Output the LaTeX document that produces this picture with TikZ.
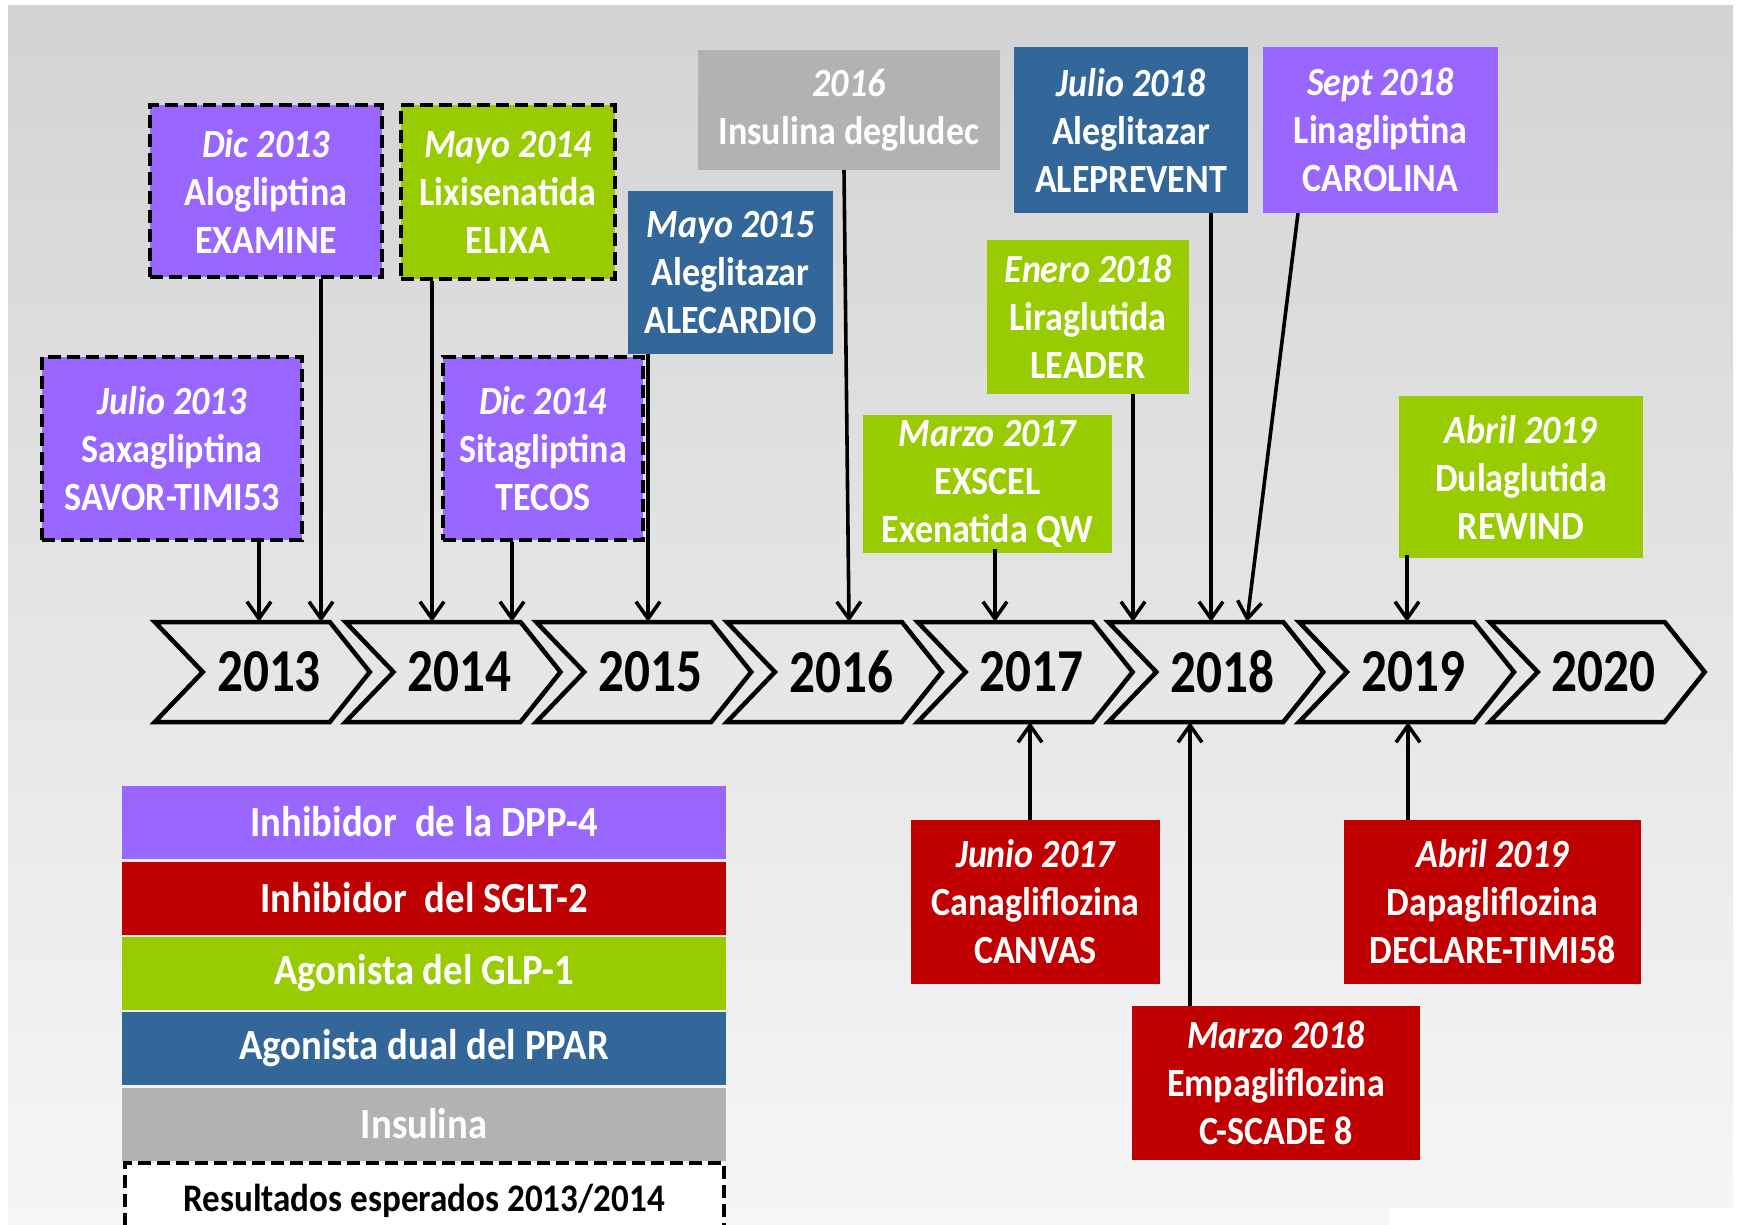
\documentclass[tikz,border=0pt]{standalone}
\usepackage{fontspec}
\setmainfont{Carlito}
\newfontfamily\boxfont[FakeStretch=0.9]{Carlito}
\newfontfamily\yearfont[FakeStretch=0.84]{Carlito}
\usetikzlibrary{arrows.meta,calc}

\definecolor{dpp}{HTML}{9966FF}
\definecolor{sglt}{HTML}{C00000}
\definecolor{glp}{HTML}{99CC00}
\definecolor{ppar}{HTML}{336699}
\definecolor{insu}{HTML}{B2B2B2}
\definecolor{bgtop}{HTML}{D3D3D3}
\definecolor{bgbot}{HTML}{F6F6F6}

\tikzset{
  evt/.style={rectangle, inner sep=0pt, text=white, align=center,
    font=\boxfont\bfseries\fontsize{40}{48}\selectfont},
  expected/.style={draw=black, line width=4pt, dash pattern=on 13pt off 6pt},
  yearbox/.style={rectangle, inner sep=0pt, minimum width=132pt, minimum height=100pt,
    font=\yearfont\bfseries\fontsize{61}{61}\selectfont},
  chev/.style={draw=black, line width=4.5pt, line join=miter},
  arr/.style={draw=black, line width=3.6pt, -{Straight Barb[length=17pt,width=24pt]}},
  leg/.style={rectangle, inner sep=0pt, minimum width=604pt, minimum height=73pt,
    text=white, font=\boxfont\bfseries\fontsize{43}{48}\selectfont},
}

\begin{document}
\begin{tikzpicture}[x=1pt,y=-1pt]
  \useasboundingbox (0,0) rectangle (1737,1225);
  \clip (0,0) rectangle (1737,1225);

  % backdrop
  \fill[white] (0,0) rectangle (1737,1225);
  \shade[top color=bgtop, bottom color=bgbot] (8,6) rectangle (1733,1225);
  \fill[white] (1390,1208) rectangle (1737,1225);

  % timeline of years
  \foreach \yr [count=\i from 0] in {2013,...,2020} {
    \node[yearbox] (y\yr) at ({155+190.7*\i+114},672) {\yr};
    \draw[chev] (y\yr.west) -- ++(-48,-50) -- ++(175,0) -- ++(40,50)
      -- ++(-40,50) -- ++(-175,0) -- cycle;
  }

  % trials above the timeline
  \node[evt, fill=dpp, expected, minimum width=232pt, minimum height=172pt] (dic13) at (266,191)
    {\itshape Dic 2013\\Alogliptina\\EXAMINE};
  \node[evt, fill=glp, expected, minimum width=214pt, minimum height=174pt] (may14) at (508,192)
    {\itshape Mayo 2014\\Lixisenatida\\ELIXA};
  \node[evt, fill=dpp, expected, minimum width=260pt, minimum height=183pt] (jul13) at (172,448.5)
    {\itshape Julio 2013\\Saxagliptina\\SAVOR-TIMI53};
  \node[evt, fill=dpp, expected, minimum width=200pt, minimum height=183pt] (dic14) at (543,448.5)
    {\itshape Dic 2014\\Sitagliptina\\TECOS};
  \node[evt, fill=ppar, minimum width=205pt, minimum height=163pt] (may15) at (730.5,272.5)
    {\itshape Mayo 2015\\Aleglitazar\\ALECARDIO};
  \node[evt, fill=insu, minimum width=302pt, minimum height=120pt] (ins16) at (849,110)
    {\itshape 2016\\Insulina degludec};
  \node[evt, fill=ppar, minimum width=234pt, minimum height=166pt] (jul18) at (1131,130)
    {\itshape Julio 2018\\Aleglitazar\\ALEPREVENT};
  \node[evt, fill=dpp, minimum width=235pt, minimum height=166pt] (sep18) at (1380.5,130)
    {\itshape Sept 2018\\Linagliptina\\CAROLINA};
  \node[evt, fill=glp, minimum width=202pt, minimum height=154pt] (ene18) at (1088,317)
    {\itshape Enero 2018\\Liraglutida\\LEADER};
  \node[evt, fill=glp, minimum width=249pt, minimum height=138pt] (mar17) at (987.5,484)
    {\itshape Marzo 2017\\EXSCEL\\Exenatida QW};
  \node[evt, fill=glp, minimum width=244pt, minimum height=162pt] (abr19g) at (1521,477)
    {\itshape Abril 2019\\Dulaglutida\\REWIND};

  % trials below the timeline
  \node[evt, fill=sglt, minimum width=249pt, minimum height=164pt] (jun17) at (1035.5,902)
    {\itshape Junio 2017\\Canagliflozina\\CANVAS};
  \node[evt, fill=sglt, minimum width=288pt, minimum height=154pt] (mar18) at (1276,1083)
    {\itshape Marzo 2018\\Empagliflozina\\C-SCADE 8};
  \node[evt, fill=sglt, minimum width=297pt, minimum height=164pt] (abr19r) at (1492.5,902)
    {\itshape Abril 2019\\Dapagliflozina\\DECLARE-TIMI58};

  % connector columns
  \coordinate (a1) at (259,0);
  \coordinate (a2) at (321,0);
  \coordinate (a3) at (432,0);
  \coordinate (a4) at (512,0);
  \coordinate (a5) at (648,0);
  \coordinate (a6) at (844,0);
  \coordinate (a6b) at (849,0);
  \coordinate (a7) at (995,0);
  \coordinate (a8) at (1133,0);
  \coordinate (a9) at (1211,0);
  \coordinate (a10) at (1298,0);
  \coordinate (a10b) at (1247,0);
  \coordinate (a11) at (1407,0);
  \coordinate (b1) at (1030,0);
  \coordinate (b2) at (1190,0);
  \coordinate (b3) at (1408,0);

  \draw[arr] (jul13.south -| a1) -- (y2013.north -| a1);
  \draw[arr] (dic13.south -| a2) -- (y2013.north -| a2);
  \draw[arr] (may14.south -| a3) -- (y2014.north -| a3);
  \draw[arr] (dic14.south -| a4) -- (y2014.north -| a4);
  \draw[arr] (may15.south -| a5) -- (y2015.north -| a5);
  \draw[arr] (ins16.south -| a6) -- (y2016.north -| a6b);
  \draw[arr] ([yshift=4pt]mar17.south -| a7) -- (y2017.north -| a7);
  \draw[arr] (ene18.south -| a8) -- (y2018.north -| a8);
  \draw[arr] (jul18.south -| a9) -- (y2018.north -| a9);
  \draw[arr] (sep18.south -| a10) -- (y2018.north -| a10b);
  \draw[arr] ([yshift=3pt]abr19g.south -| a11) -- (y2019.north -| a11);

  \draw[arr] (jun17.north -| b1) -- (y2017.south -| b1);
  \draw[arr] (mar18.north -| b2) -- (y2018.south -| b2);
  \draw[arr] (abr19r.north -| b3) -- (y2019.south -| b3);

  % legend
  \node[leg, fill=dpp]  (l1) at (424,822)    {Inhibidor\ \ de la DPP-4};
  \node[leg, fill=sglt] (l2) at (424,898)    {Inhibidor\ \ del SGLT-2};
  \node[leg, fill=glp]  (l3) at (424,973.5)  {Agonista del GLP-1};
  \node[leg, fill=ppar] (l4) at (424,1048.5) {Agonista dual del PPAR};
  \node[leg, fill=insu] (l5) at (424,1124)   {Insulina};
  \node[rectangle, fill=white, expected, minimum width=599pt, minimum height=120pt]
    (l6) at (424.5,1223) {};
  \node[font=\boxfont\bfseries\fontsize{39}{44}\selectfont, inner sep=0pt]
    (l6t) at (424,1201) {Resultados esperados 2013/2014};
\end{tikzpicture}
\end{document}
